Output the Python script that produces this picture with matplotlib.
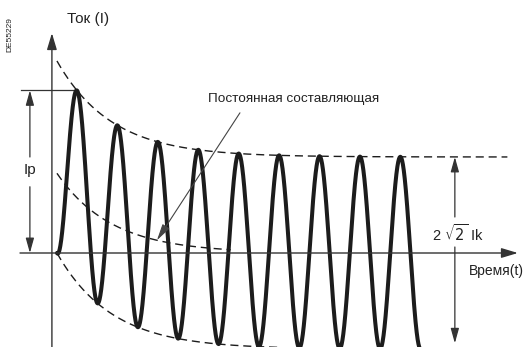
import numpy as np
import matplotlib
matplotlib.use("Agg")
import matplotlib.pyplot as plt

# values (time in ms, current in units of the AC peak)
period_ms = 20.0
n_cycles = 9
ac_peak = 1.0          # sqrt(2) * Ik
dc_start = 1.0         # DC offset at switch-on
tau_ms = 27.0          # decay time constant of the DC part
dc_line_start = 0.83   # where the drawn "DC component" curve starts
dc_line_end_ms = 86.0
env_end_ms = 223.0
lower_env_end_ms = 110.0

labels_ru = {
    "y": "Ток (I)",
    "x": "Время(t)",
    "dc": "Постоянная составляющая",
    "ip": "Ip",
    "ik": r"2 $\sqrt{2}$ Ik",
    "ref": "DE55229",
}

plt.rcParams['font.family'] = ['Liberation Sans', 'DejaVu Sans']

fig = plt.figure(figsize=(5.31, 3.47), dpi=100)
ax = fig.add_axes([0, 0, 1, 1])
ax.set_xlim(-28.2, 234.7)
ax.set_ylim(-0.979, 2.635)
ax.axis("off")

wave_col = "#1c1c1c"
line_col = "#333333"

# current waveform
t = np.linspace(0, n_cycles * period_ms, 3000)
dc = dc_start * np.exp(-t / tau_ms)
i = dc - ac_peak * np.cos(2 * np.pi * t / period_ms)
ax.plot(t, i, color=wave_col, lw=2.9, solid_capstyle="round", zorder=3)

dash = (0, (5.8, 3.5))
# upper envelope
te = np.linspace(0, env_end_ms, 500)
ax.plot(te, ac_peak + dc_start * np.exp(-te / tau_ms), color=wave_col, lw=1.0, ls=dash)
# lower envelope
tl = np.linspace(0, lower_env_end_ms, 300)
ax.plot(tl, dc_start * np.exp(-tl / tau_ms) - ac_peak, color=wave_col, lw=1.0, ls=dash)
# DC component
td = np.linspace(0, dc_line_end_ms, 300)
ax.plot(td, dc_line_start * np.exp(-td / tau_ms), color=wave_col, lw=1.0, ls=dash)

head = "-|>,head_length=1.0,head_width=0.3"
head_small = "-|>,head_length=0.9,head_width=0.25"

def arrow(x0, y0, x1, y1, style=head, lw=1.0, col=line_col):
    ax.annotate("", xy=(x1, y1), xytext=(x0, y0),
                arrowprops=dict(arrowstyle=style, lw=lw, color=col,
                                shrinkA=0, shrinkB=0))

# axes
arrow(-2.5, -0.98, -2.5, 2.29)
arrow(-18.3, 0, 228.2, 0)

# Ip dimension
k_peak = np.argmax(i)
t_pk, i_pk = t[k_peak], i[k_peak]
ax.plot([-17.8, t_pk], [i_pk, i_pk], color=line_col, lw=0.9)
arrow(-13.4, 1.0, -13.4, i_pk, style=head_small, lw=0.9)
arrow(-13.4, 0.69, -13.4, 0, style=head_small, lw=0.9)
ax.text(-13.2, 0.865, labels_ru["ip"], fontsize=11, ha="center", va="center", color="#222")

# 2*sqrt(2)*Ik dimension
arrow(197, 0.375, 197, ac_peak, style=head_small, lw=0.9)
arrow(197, 0.0625, 197, -0.94, style=head_small, lw=0.9)
ax.text(198.5, 0.2, labels_ru["ik"], fontsize=10.5, ha="center", va="center", color="#222")

# DC component pointer
t_tip = 49.5
ax.annotate("", xy=(t_tip, dc_line_start * np.exp(-t_tip / tau_ms)), xytext=(90.6, 1.46),
            arrowprops=dict(arrowstyle="-|>,head_length=1.0,head_width=0.25",
                            lw=0.8, color="#444444", shrinkA=0, shrinkB=0))
ax.text(74.8, 1.6, labels_ru["dc"], fontsize=9.7, ha="left", va="center", color="#222")

ax.text(15.3, 2.44, labels_ru["y"], fontsize=11, ha="center", va="center", color="#222")
ax.text(217.5, -0.19, labels_ru["x"], fontsize=10, ha="center", va="center", color="#222")
ax.text(-23.3, 2.27, labels_ru["ref"], fontsize=6, rotation=90, ha="center", va="center", color="#222")

fig.savefig("out.png", dpi=100)
